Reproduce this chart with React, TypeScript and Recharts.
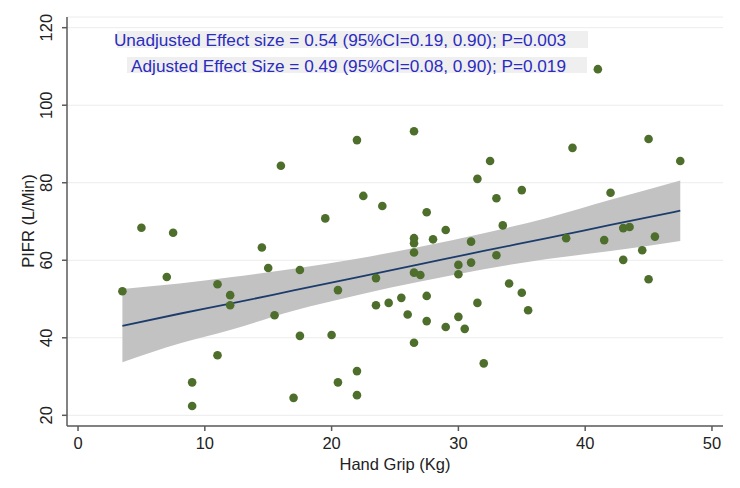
import React from 'react';
import {
  ComposedChart,
  Scatter,
  Line,
  Area,
  XAxis,
  YAxis,
  CartesianGrid,
} from 'recharts';

// hand grip (kg) of each subject
const gripKg = [
  3.5, 5, 7, 7.5, 9, 9, 11, 11, 12, 12, 14.5, 15, 15.5, 16, 17, 17.5, 17.5, 19.5,
  20, 20.5, 20.5, 22, 22, 22, 22.5, 23.5, 23.5, 24, 24.5, 25.5, 26, 26.5, 26.5,
  26.5, 26.5, 26.5, 26.5, 27, 27.5, 27.5, 27.5, 28, 29, 29, 30, 30, 30, 30.5, 31,
  31, 31.5, 31.5, 32, 32.5, 33, 33, 33.5, 34, 35, 35, 35.5, 38.5, 39, 41, 41.5,
  42, 43, 43.5, 43, 44.5, 45, 45, 45.5, 47.5,
];

// PIFR (L/min) of each subject, same order
const pifr = [
  52.0, 68.4, 55.7, 67.1, 28.5, 22.4, 53.8, 35.5, 51.0, 48.4, 63.3, 58.0, 45.8,
  84.4, 24.5, 57.5, 40.5, 70.8, 40.7, 52.3, 28.5, 91.0, 31.4, 25.2, 76.6, 55.4,
  48.4, 74.0, 49.0, 50.3, 46.0, 93.3, 65.7, 64.4, 62.0, 56.8, 38.7, 56.2, 72.4,
  50.8, 44.3, 65.4, 67.8, 42.8, 58.8, 56.4, 45.4, 42.3, 64.8, 59.4, 81.0, 49.0,
  33.4, 85.6, 76.0, 61.3, 69.0, 54.0, 78.1, 51.6, 47.1, 65.7, 89.0, 109.3, 65.2,
  77.4, 68.3, 68.6, 60.1, 62.6, 91.3, 55.1, 66.1, 85.6,
];

// fitted line and 95% CI band
const fitX = [3.5, 8, 12, 17, 22, 27, 32, 37, 42, 47.5];
const fitY = [43.1, 46.2, 48.8, 52.2, 55.6, 59.0, 62.4, 65.7, 69.1, 72.8];
const ciLow = [33.7, 38.5, 42.0, 47.0, 51.0, 54.5, 57.7, 60.3, 62.4, 65.0];
const ciHigh = [52.6, 54.0, 55.6, 57.8, 60.4, 63.5, 67.0, 70.9, 75.6, 80.6];

const xTicks = [0, 10, 20, 30, 40, 50];
const yTicks = [20, 40, 60, 80, 100, 120];

const noteLines = [
  'Unadjusted Effect size = 0.54 (95%CI=0.19, 0.90); P=0.003',
  'Adjusted Effect Size = 0.49 (95%CI=0.08, 0.90); P=0.019',
];

const points = gripKg.map((x, i) => ({ x, y: pifr[i] }));
const fitData = fitX.map((x, i) => ({ x, fit: fitY[i], band: [ciLow[i], ciHigh[i]] }));

const FONT = '"Liberation Sans", Arial, sans-serif';
const AXIS = '#5a5a5a';

const YTick = (props: any) => {
  const { x, y, payload } = props;
  return (
    <text
      x={x}
      y={y}
      transform={`rotate(-90, ${x}, ${y})`}
      textAnchor="middle"
      fontFamily={FONT}
      fontSize={16.5}
      fill="#222"
    >
      {payload.value}
    </text>
  );
};

const Dot = (props: any) => (
  <circle cx={props.cx} cy={props.cy} r={4.3} fill="#4e6e2b" />
);

const App = () => {
  return (
    <div style={{ position: 'absolute', left: 0, top: 0, width: 740, height: 488, background: '#fff' }}>
      <ComposedChart
        width={740}
        height={488}
        data={fitData}
        margin={{ top: 17, right: 17, bottom: 0, left: 0 }}
      >
        <CartesianGrid vertical={false} stroke="#ececec" strokeWidth={1} />
        <XAxis
          type="number"
          dataKey="x"
          domain={[-0.87, 50.87]}
          ticks={xTicks}
          allowDataOverflow
          height={62}
          tickSize={5}
          tickMargin={6}
          stroke={AXIS}
          strokeWidth={1.5}
          tick={{ fontFamily: FONT, fontSize: 16.5, fill: '#222' }}
        />
        <YAxis
          type="number"
          domain={[17.24, 122.76]}
          ticks={yTicks}
          allowDataOverflow
          width={67}
          tickSize={5}
          stroke={AXIS}
          strokeWidth={1.5}
          tick={(p: any) => <YTick {...p} x={52.5} />}
        />
        <Area
          type="monotone"
          dataKey="band"
          stroke="none"
          fill="#c2c2c2"
          fillOpacity={1}
          isAnimationActive={false}
        />
        <Line
          type="monotone"
          dataKey="fit"
          stroke="#1c3d6c"
          strokeWidth={1.8}
          dot={false}
          isAnimationActive={false}
        />
        <Scatter data={points} dataKey="y" shape={<Dot />} isAnimationActive={false} />
      </ComposedChart>
      <svg
        width={740}
        height={488}
        style={{ position: 'absolute', left: 0, top: 0, pointerEvents: 'none' }}
        fontFamily={FONT}
      >
        <rect x={117} y={31} width={471} height={17} fill="#efefef" />
        <rect x={127} y={57} width={460} height={16} fill="#efefef" />
        <text x={566} y={46} textAnchor="end" fontSize={17.2} fill="#2b2bc0">
          {noteLines[0]}
        </text>
        <text x={566} y={72} textAnchor="end" fontSize={17.2} fill="#2b2bc0">
          {noteLines[1]}
        </text>
        <text x={395} y={470} textAnchor="middle" fontSize={16.5} fill="#222">
          Hand Grip (Kg)
        </text>
        <text
          x={34}
          y={221}
          transform="rotate(-90, 34, 221)"
          textAnchor="middle"
          fontSize={16.5}
          fill="#222"
        >
          PIFR (L/Min)
        </text>
      </svg>
    </div>
  );
};

export default App;
